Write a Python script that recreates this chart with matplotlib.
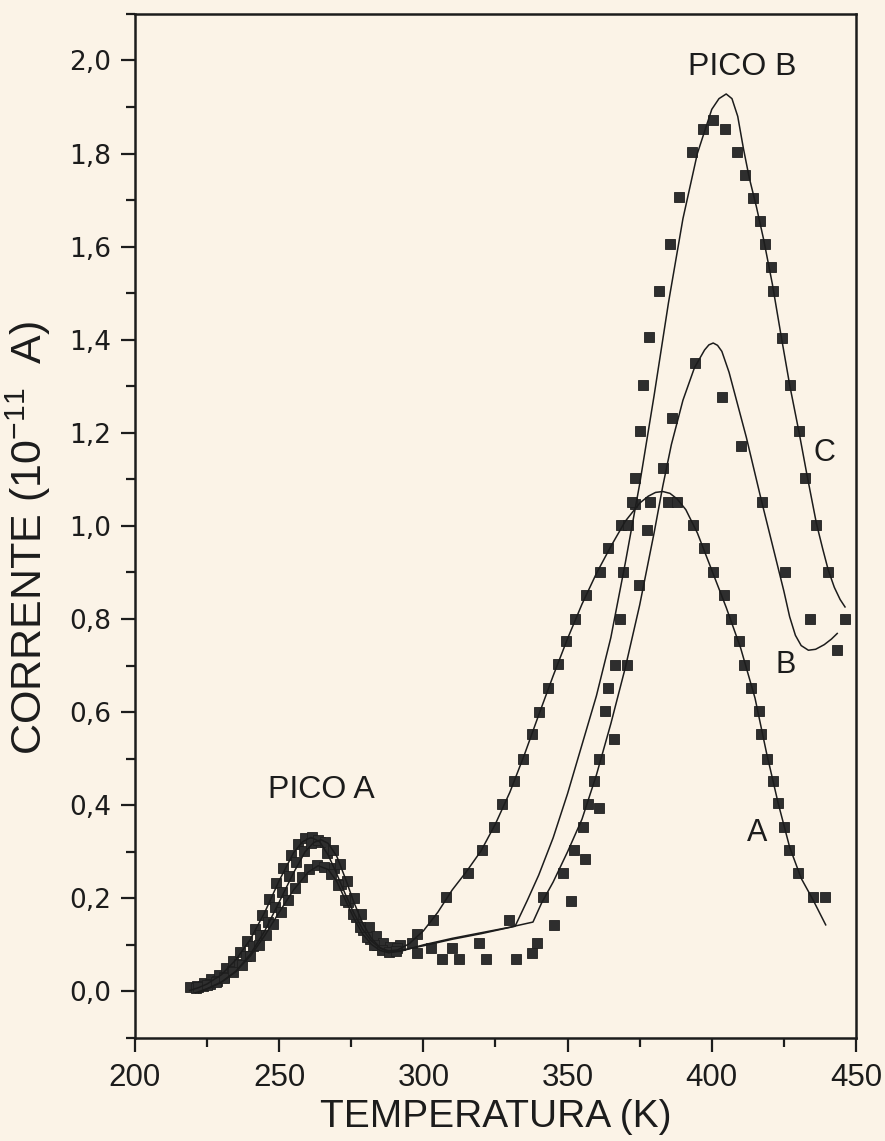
import matplotlib
matplotlib.use("Agg")
import matplotlib.pyplot as plt
from matplotlib.ticker import MultipleLocator

plt.rcParams['font.family'] = ['Liberation Sans', 'DejaVu Sans']
plt.rcParams['mathtext.fontset'] = 'custom'
plt.rcParams['mathtext.rm'] = 'Liberation Sans'
plt.rcParams['mathtext.default'] = 'regular'

# pontos experimentais: temperatura (K) e corrente (1e-11 A)
tA = [219, 221.5, 224, 226.5, 229, 231.5, 234, 236.5, 239, 241.5, 244, 246.5, 249, 251.5,
      254, 256.5, 259, 261.5, 264, 266.5, 269, 271.5, 274, 276.5, 279, 281.5, 284, 286.5,
      289, 292, 297.7, 303.4, 307.7, 315.6, 320.4, 324.5, 327.1, 331.4, 334.4, 337.5, 340.2,
      343.3, 346.6, 349.5, 352.6, 356.5, 361.2, 364.1, 368.7, 373.5, 378.6, 384.9, 387.8,
      393.5, 397.3, 400.5, 404.2, 406.5, 409.5, 411.1, 413.5, 416.4, 417.0, 419.0, 421.1,
      423.0, 425.0, 426.9, 430.0, 435.0, 439.2]
iA = [0.010, 0.012, 0.018, 0.026, 0.036, 0.050, 0.066, 0.085, 0.108, 0.135, 0.165, 0.198,
      0.232, 0.265, 0.294, 0.317, 0.330, 0.331, 0.320, 0.298, 0.266, 0.230, 0.193, 0.160,
      0.133, 0.113, 0.099, 0.092, 0.090, 0.100, 0.124, 0.154, 0.203, 0.254, 0.303, 0.353,
      0.402, 0.452, 0.500, 0.552, 0.601, 0.652, 0.703, 0.752, 0.801, 0.852, 0.902, 0.952,
      1.001, 1.048, 1.052, 1.052, 1.052, 1.001, 0.952, 0.902, 0.852, 0.801, 0.753, 0.701,
      0.651, 0.602, 0.553, 0.500, 0.451, 0.404, 0.353, 0.303, 0.254, 0.203, 0.203]

tB = [221, 223.5, 226, 228.5, 231, 233.5, 236, 238.5, 241, 243.5, 246, 248.5, 251, 253.5,
      256, 258.5, 261, 263.5, 266, 268.5, 271, 273.5, 276, 278.5, 281, 283.5, 286, 288.5,
      291, 295.9, 302.6, 309.8, 319.4, 329.8, 341.6, 348.3, 352.3, 355.4, 357.2, 359.2,
      361.0, 366.1, 370.5, 374.8, 377.4, 383.2, 386.1, 394.2, 403.4, 410.3, 417.3, 425.4,
      434.0, 443.3]
iB = [0.008, 0.011, 0.016, 0.023, 0.032, 0.044, 0.058, 0.076, 0.097, 0.122, 0.150, 0.181,
      0.214, 0.247, 0.277, 0.302, 0.318, 0.326, 0.322, 0.304, 0.274, 0.238, 0.200, 0.166,
      0.139, 0.118, 0.103, 0.095, 0.093, 0.103, 0.093, 0.093, 0.103, 0.154, 0.203, 0.254,
      0.303, 0.353, 0.402, 0.452, 0.500, 0.542, 0.701, 0.873, 0.991, 1.124, 1.231, 1.351,
      1.277, 1.172, 1.052, 0.902, 0.801, 0.733]

tC = [222, 225, 228, 231, 234, 237, 240, 243, 245.5, 248, 250.5, 253, 255.5, 258, 260.5,
      263, 265.5, 268, 270.5, 273, 275.5, 278, 280.5, 283, 285.5, 288, 290.5, 297.7, 306.3,
      312.4, 321.7, 332.1, 337.5, 339.5, 345.3, 351.2, 356.2, 361.0, 363.0, 364.1, 366.4,
      368.2, 369.3, 371.0, 372.2, 373.4, 375.1, 376.2, 378.3, 381.8, 385.5, 388.6, 393.0,
      397.0, 400.5, 404.6, 408.6, 411.5, 414.4, 416.7, 418.4, 420.7, 421.3, 424.2, 427.1,
      430.3, 432.3, 436.3, 440.4, 446.2]
iC = [0.010, 0.014, 0.020, 0.029, 0.041, 0.057, 0.077, 0.100, 0.121, 0.145, 0.170, 0.196,
      0.222, 0.245, 0.262, 0.271, 0.268, 0.253, 0.228, 0.197, 0.166, 0.138, 0.116, 0.100,
      0.090, 0.085, 0.086, 0.082, 0.070, 0.070, 0.070, 0.070, 0.082, 0.103, 0.142, 0.194,
      0.285, 0.393, 0.602, 0.651, 0.701, 0.801, 0.902, 1.001, 1.052, 1.104, 1.204, 1.303,
      1.406, 1.504, 1.606, 1.706, 1.803, 1.852, 1.873, 1.852, 1.803, 1.753, 1.705, 1.655,
      1.606, 1.556, 1.504, 1.404, 1.303, 1.204, 1.104, 1.001, 0.902, 0.801]

# curvas ajustadas
fitA_t = [219, 222, 225, 230, 235, 240, 245, 250, 255, 258, 261, 264, 267, 270, 273, 276,
          279, 282, 285, 288, 291, 295, 300, 305, 310, 315, 320, 325, 330, 335, 340, 345,
          350, 355, 360, 365, 370, 375, 378, 380.5, 383, 385.5, 388, 391, 395, 400, 405,
          410, 415, 419, 423, 427, 431, 435, 439.5]
fitA_i = [0.002, 0.008, 0.016, 0.036, 0.068, 0.112, 0.170, 0.238, 0.298, 0.321, 0.331,
          0.322, 0.293, 0.252, 0.208, 0.167, 0.133, 0.108, 0.093, 0.087, 0.089, 0.102,
          0.130, 0.170, 0.218, 0.258, 0.302, 0.360, 0.428, 0.508, 0.594, 0.678, 0.758,
          0.832, 0.898, 0.956, 1.010, 1.049, 1.064, 1.072, 1.074, 1.070, 1.058, 1.035,
          0.985, 0.905, 0.825, 0.738, 0.630, 0.512, 0.405, 0.310, 0.243, 0.198, 0.143]

fitB_t = [221, 225, 230, 235, 240, 245, 250, 255, 259, 262, 264.5, 267, 270, 273, 276, 279,
          282, 285, 288, 292, 300, 310, 320, 330, 338, 341, 345, 350, 355, 360, 365, 370,
          375, 380, 383, 386, 390, 394, 397.5, 399, 400.5, 402, 403.5, 406, 409, 412, 417,
          421, 425, 427, 429, 431, 433.5, 436, 439, 441.5, 443.5]
fitB_i = [-0.003, 0.006, 0.020, 0.043, 0.080, 0.130, 0.192, 0.255, 0.300, 0.320, 0.326,
          0.318, 0.290, 0.242, 0.190, 0.146, 0.114, 0.094, 0.084, 0.086, 0.100, 0.114,
          0.126, 0.138, 0.149, 0.190, 0.235, 0.300, 0.370, 0.465, 0.575, 0.695, 0.830,
          0.985, 1.085, 1.175, 1.270, 1.340, 1.378, 1.389, 1.393, 1.388, 1.375, 1.330,
          1.260, 1.190, 1.060, 0.960, 0.860, 0.805, 0.765, 0.743, 0.733, 0.735, 0.745,
          0.757, 0.769]

fitC_t = [222, 225, 230, 235, 240, 245, 250, 255, 260, 263.5, 267, 270, 273, 276, 279, 282,
          285, 288, 292, 300, 310, 320, 331.8, 336, 340, 345, 350, 355, 360, 365, 370, 375,
          380, 385, 390, 395, 400, 402.5, 405, 407, 409, 411, 413, 415.5, 418, 421, 424,
          427.1, 430.3, 433, 436.3, 438.5, 440.4, 442.5, 444.5, 446.2]
fitC_i = [-0.003, 0.005, 0.020, 0.043, 0.076, 0.120, 0.170, 0.218, 0.256, 0.270, 0.262,
          0.236, 0.196, 0.156, 0.123, 0.101, 0.088, 0.083, 0.088, 0.098, 0.112, 0.124,
          0.140, 0.195, 0.250, 0.330, 0.425, 0.530, 0.635, 0.760, 0.920, 1.090, 1.280,
          1.480, 1.660, 1.800, 1.895, 1.918, 1.928, 1.918, 1.880, 1.810, 1.748, 1.685,
          1.615, 1.520, 1.410, 1.300, 1.200, 1.110, 1.005, 0.950, 0.905, 0.868, 0.842,
          0.826]

yticks = [0.0, 0.2, 0.4, 0.6, 0.8, 1.0, 1.2, 1.4, 1.6, 1.8, 2.0]
ylabels = ['0,0', '0,2', '0,4', '0,6', '0,8', '1,0', '1,2', '1,4', '1,6', '1,8', '2,0']
xticks = [200, 250, 300, 350, 400, 450]

bg = '#fbf3e7'
ink = '#1c1c1c'

fig = plt.figure(figsize=(8.85, 11.41), dpi=100, facecolor=bg)
ax = fig.add_axes([0.1525, 0.0903, 0.8147, 0.8975], facecolor=bg)

for t, i in [(tA, iA), (tB, iB), (tC, iC)]:
    ax.plot(t, i, ls='none', marker='s', ms=6.5, color='#2e2e2e', mec='#1f1f1f', mew=0.6)
for t, i in [(fitA_t, fitA_i), (fitB_t, fitB_i), (fitC_t, fitC_i)]:
    ax.plot(t, i, color=ink, lw=1.1)

ax.set_xlim(200, 450)
ax.set_ylim(-0.1, 2.1)

ax.set_xticks(xticks)
ax.set_xticklabels([str(x) for x in xticks], fontsize=22.5)
ax.xaxis.set_minor_locator(MultipleLocator(25))
ax.set_yticks(yticks)
ax.set_yticklabels(ylabels, fontsize=19, family='DejaVu Sans')
ax.yaxis.set_minor_locator(MultipleLocator(0.1))

ax.tick_params(which='major', length=10, width=1.6, color=ink, labelcolor=ink)
ax.tick_params(which='minor', length=6.5, width=1.6, color=ink)
ax.tick_params(axis='x', pad=8)
ax.tick_params(axis='y', pad=7)
for s in ax.spines.values():
    s.set_linewidth(1.8)
    s.set_color(ink)

ax.set_xlabel('TEMPERATURA (K)', fontsize=28, color=ink, labelpad=4)
ax.set_ylabel('CORRENTE (10$^{-11}$  A)', fontsize=31, color=ink, labelpad=12, y=0.488)

ax.text(264.8, 0.432, 'PICO A', fontsize=23, ha='center', va='center', color=ink)
ax.text(410.5, 1.985, 'PICO B', fontsize=23, ha='center', va='center', color=ink)
ax.text(439.0, 1.157, 'C', fontsize=22, ha='center', va='center', color=ink)
ax.text(425.7, 0.701, 'B', fontsize=22, ha='center', va='center', color=ink)
ax.text(415.7, 0.340, 'A', fontsize=22, ha='center', va='center', color=ink)

fig.savefig('out.png', dpi=100, facecolor=bg)
